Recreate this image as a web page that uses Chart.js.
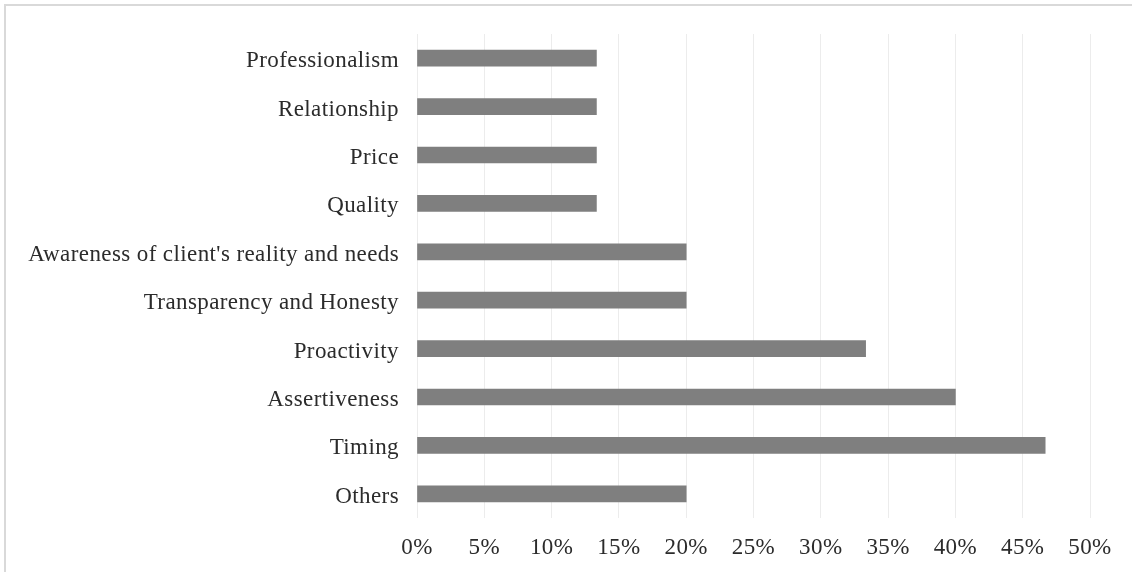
<!DOCTYPE html>
<html>
<head>
<meta charset="utf-8">
<script src="https://cdn.jsdelivr.net/npm/chart.js@4/dist/chart.umd.min.js"></script>
<style>
  html, body { margin: 0; padding: 0; background: #fff; overflow: hidden; }
  #wrap { position: relative; width: 1132px; height: 572px; }
  #frame {
    position: absolute; left: 4px; top: 4px; width: 1200px; height: 700px;
    border: 2px solid #d9d9d9; pointer-events: none;
  }
</style>
</head>
<body>
<div id="wrap">
  <canvas id="chart" width="1132" height="572"></canvas>
  <div id="frame"></div>
</div>
<script>
// categories top to bottom
const categories = [
  'Professionalism',
  'Relationship',
  'Price',
  'Quality',
  "Awareness of client's reality and needs",
  'Transparency and Honesty',
  'Proactivity',
  'Assertiveness',
  'Timing',
  'Others'
];

// share of responses, in percent
const shares = [13.33, 13.33, 13.33, 13.33, 20, 20, 33.33, 40, 46.67, 20];

// x axis ticks, in percent
const xTicks = [0, 5, 10, 15, 20, 25, 30, 35, 40, 45, 50];

const font = { family: '"Liberation Serif", "Times New Roman", serif', size: 23 };

// slightly spaced-out lettering for all labels
const spacing = {
  id: 'spacing',
  beforeDraw(chart) { chart.ctx.letterSpacing = '0.4px'; }
};

new Chart(document.getElementById('chart'), {
  type: 'bar',
  data: {
    labels: categories,
    datasets: [{
      data: shares,
      backgroundColor: '#7f7f7f',
      borderWidth: 0,
      barThickness: 16
    }]
  },
  plugins: [spacing],
  options: {
    indexAxis: 'y',
    responsive: false,
    animation: false,
    layout: { padding: { top: 34, right: 42, left: 0, bottom: 0 } },
    plugins: {
      legend: { display: false },
      tooltip: { enabled: false }
    },
    scales: {
      x: {
        min: 0,
        max: 50,
        afterBuildTicks: (scale) => {
          scale.ticks = xTicks.map(v => ({ value: v }));
        },
        afterFit: (scale) => { scale.height = 54; },
        border: { display: false },
        grid: { color: '#ececec', lineWidth: 1, drawTicks: false },
        ticks: {
          color: '#2b2b2b',
          font: font,
          padding: 16,
          maxRotation: 0,
          callback: (v) => v + '%'
        }
      },
      y: {
        afterFit: (scale) => { scale.width = 417; },
        border: { display: false },
        grid: { display: false, drawTicks: false },
        ticks: {
          color: '#2b2b2b',
          font: font,
          padding: 18,
          labelOffset: 3
        }
      }
    }
  }
});
</script>
</body>
</html>
